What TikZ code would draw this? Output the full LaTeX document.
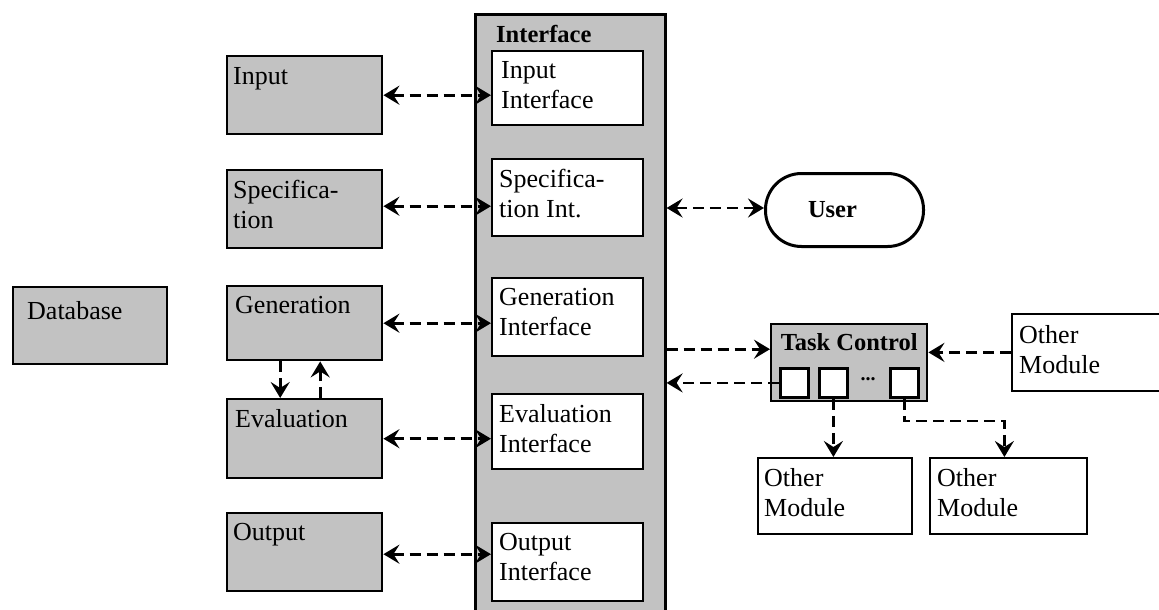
\documentclass[tikz,border=0pt]{standalone}
\usepackage{fontspec}
\setmainfont{Liberation Serif}
\usetikzlibrary{arrows.meta,calc}

\begin{document}
\begin{tikzpicture}[x=1pt,y=-1pt,
  every node/.style={font=\fontsize{26}{30}\selectfont},
  box/.style={draw, line width=2.4pt, inner sep=0pt, anchor=north west},
  shaded/.style={box, fill=black!24},
  plain/.style={box, fill=white},
  thinbox/.style={draw, line width=1.8pt, fill=white, inner sep=0pt, anchor=north west},
  slot/.style={draw, line width=2.8pt, fill=white, inner sep=0pt, anchor=north west,
               minimum width=28pt, minimum height=29pt},
  txt/.style={anchor=north west, inner sep=0pt, align=left},
  head/.tip={Stealth[length=16pt,width=19pt,inset=6pt]},
  link/.style={line width=2.6pt, dash pattern=on 11pt off 6pt, -head},
  both/.style={link, head-head},
]
\useasboundingbox (0,0) rectangle (1159,610);

% interface column
\node[shaded, line width=2.6pt, minimum width=190pt, minimum height=620pt] (iface) at (474,13) {};
\node[txt, font=\fontsize{24.5}{25}\selectfont\bfseries] (ifacet) at ($(iface.north west)+(22,12)$) {Interface};

\node[plain, minimum width=151pt, minimum height=74pt] (ii) at (491,50) {};
\node[plain, minimum width=151pt, minimum height=77pt] (si) at (491,158) {};
\node[plain, minimum width=151pt, minimum height=78pt] (gi) at (491,277) {};
\node[plain, minimum width=151pt, minimum height=75pt] (ei) at (491,393) {};
\node[plain, minimum width=151pt, minimum height=78pt] (oi) at (491,522) {};
\node[txt] (iit) at ($(ii.north west)+(10,11)$) {Input\\Interface};
\node[txt] (sit) at ($(si.north west)+(8,11)$) {Specifica-\\tion Int.};
\node[txt] (git) at ($(gi.north west)+(8,11)$) {Generation\\Interface};
\node[txt] (eit) at ($(ei.north west)+(8,11)$) {Evaluation\\Interface};
\node[txt] (oit) at ($(oi.north west)+(8,11)$) {Output\\Interface};

% modules on the left
\node[shaded, minimum width=155pt, minimum height=78pt] (in) at (226,55) {};
\node[shaded, minimum width=155pt, minimum height=78pt] (sp) at (226,169) {};
\node[shaded, minimum width=155pt, minimum height=74pt] (ge) at (226,285) {};
\node[shaded, minimum width=155pt, minimum height=79pt] (ev) at (226,398) {};
\node[shaded, minimum width=155pt, minimum height=78pt] (ou) at (226,512) {};
\node[shaded, minimum width=154pt, minimum height=77pt] (db) at (12,286) {};
\node[txt] (int) at ($(in.north west)+(7,12)$) {Input};
\node[txt] (spt) at ($(sp.north west)+(7,11)$) {Specifica-\\tion};
\node[txt] (get) at ($(ge.north west)+(9,11)$) {Generation};
\node[txt] (evt) at ($(ev.north west)+(9,11)$) {Evaluation};
\node[txt] (out) at ($(ou.north west)+(7,11)$) {Output};
\node[txt] (dbt) at ($(db.north west)+(15,15)$) {Database};

% user
\node[draw, line width=3pt, rounded corners=36pt, minimum width=158pt, minimum height=73pt,
      inner sep=0pt, anchor=north west] (user) at (764,172) {};
\node[font=\fontsize{24.5}{25}\selectfont\bfseries, inner sep=0pt] (usert) at ($(user.center)+(-12,0)$) {User};

% task control with its slots
\node[shaded, minimum width=156pt, minimum height=77pt] (tc) at (770,323) {};
\node[anchor=north, inner sep=0pt, font=\fontsize{24.5}{25}\selectfont\bfseries] (tct) at ($(tc.north)+(0,10)$) {Task Control};
\node[slot] (s1) at (779,367) {};
\node[slot] (s2) at (818,367) {};
\node[slot] (s3) at (889,367) {};
\node[inner sep=0pt, font=\fontsize{20}{20}\selectfont\bfseries] (dots) at (868,379) {...};

% other modules
\node[thinbox, minimum width=170pt, minimum height=77pt] (omr) at (1011,313) {};
\node[thinbox, minimum width=154pt, minimum height=76pt] (om1) at (757,457) {};
\node[thinbox, minimum width=157pt, minimum height=76pt] (om2) at (929,457) {};
\node[txt] (omrt) at ($(omr.north west)+(8,12)$) {Other\\Module};
\node[txt] (om1t) at ($(om1.north west)+(7,11)$) {Other\\Module};
\node[txt] (om2t) at ($(om2.north west)+(8,11)$) {Other\\Module};

% connectors between modules and their interfaces
\draw[both] (in.east) -- (in.east -| ii.west);
\draw[both] ([yshift=3pt]sp.east) -- ([yshift=3pt]sp.east -| si.west);
\draw[both] (ge.east) -- (ge.east -| gi.west);
\draw[both] (ev.east) -- (ev.east -| ei.west);
\draw[both] ([yshift=-2pt]ou.east) -- ([yshift=-2pt]ou.east -| oi.west);

% generation and evaluation loop
\draw[link] ([xshift=-24.5pt]ge.south) -- ([xshift=-24.5pt]ev.north);
\draw[link] ([xshift=15.5pt]ev.north) -- ([xshift=15.5pt]ge.south);

% interface to user
\draw[both] ([yshift=2pt]user.west -| iface.east) -- ([yshift=2pt]user.west);

% task control traffic
\coordinate (tcin) at ([yshift=13.5pt]tc.west);
\draw[link] (iface.east |- tcin) -- (tcin);
\draw[link] (s1.west) -- (s1.west -| iface.east);
\draw[link] (omr.west) -- (omr.west -| tc.east);
\draw[link] (s2.south) -- (s2.south |- om1.north);
\draw[link] (s3.south) -- ++(0,22) -| ([xshift=-4pt]om2.north);
\end{tikzpicture}
\end{document}
